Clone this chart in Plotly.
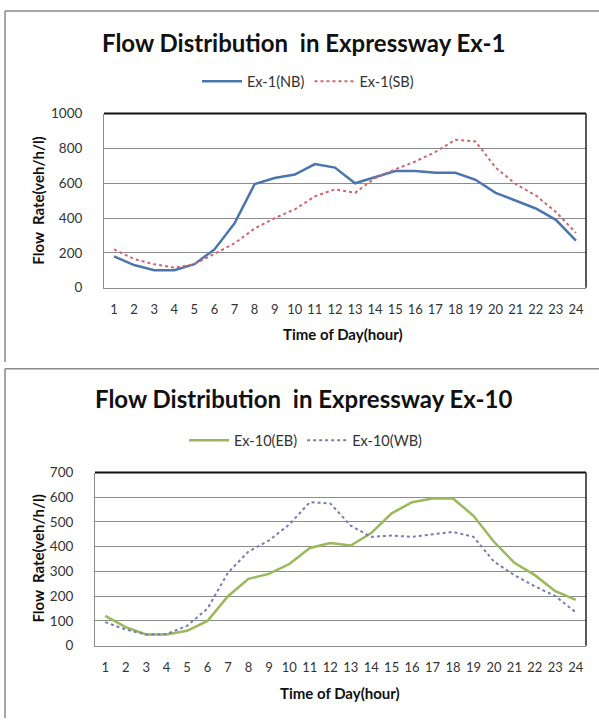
import plotly.graph_objects as go

# Hourly flow rates (veh/h/l)
hours = list(range(1, 25))
hour_labels = [str(h) for h in hours]

ex1_nb = [180, 130, 100, 100, 135, 220, 370, 595, 630, 650, 710, 690,
          600, 635, 670, 670, 660, 660, 620, 545, 500, 455, 390, 270]
ex1_sb = [220, 165, 135, 115, 135, 195, 255, 340, 400, 450, 525, 565,
          545, 630, 680, 725, 780, 850, 840, 690, 595, 530, 435, 315]

ex10_eb = [120, 75, 45, 45, 60, 100, 200, 270, 290, 330, 395, 415,
           405, 455, 535, 580, 595, 595, 525, 420, 335, 285, 220, 185]
ex10_wb = [95, 65, 45, 47, 80, 150, 295, 380, 425, 490, 580, 575,
           485, 440, 445, 440, 450, 460, 440, 340, 285, 240, 200, 135]

ex1_ticks = [0, 200, 400, 600, 800, 1000]
ex10_ticks = [0, 100, 200, 300, 400, 500, 600, 700]

W, H = 599, 726
FONT = "Lato"


def px(x):
    return x / W


def py(y):
    return 1 - y / H


fig = go.Figure()

fig.add_trace(go.Scatter(x=hours, y=ex1_nb, name="Ex-1(NB)", mode="lines",
                         line=dict(color="#4a76ad", width=2.5),
                         xaxis="x", yaxis="y", legend="legend"))
fig.add_trace(go.Scatter(x=hours, y=ex1_sb, name="Ex-1(SB)", mode="lines",
                         line=dict(color="#d0666c", width=2, dash="dot"),
                         xaxis="x", yaxis="y", legend="legend"))
fig.add_trace(go.Scatter(x=hours, y=ex10_eb, name="Ex-10(EB)", mode="lines",
                         line=dict(color="#9bb85a", width=2.5),
                         xaxis="x2", yaxis="y2", legend="legend2"))
fig.add_trace(go.Scatter(x=hours, y=ex10_wb, name="Ex-10(WB)", mode="lines",
                         line=dict(color="#7a7ab8", width=2, dash="dot"),
                         xaxis="x2", yaxis="y2", legend="legend2"))

xcommon = dict(range=[0.5, 24.5], tickmode="array", tickvals=hours,
               ticktext=hour_labels, showgrid=False, zeroline=False,
               showline=True, linecolor="#8c8c8c", linewidth=1,
               ticks="outside", ticklen=10, tickcolor="rgba(0,0,0,0)",
               tickfont=dict(family=FONT, size=13, color="#333333"))
ycommon = dict(showgrid=True, gridcolor="#8c8c8c", gridwidth=1,
               zeroline=False, showline=True, linecolor="#8c8c8c",
               linewidth=1, ticks="outside", ticklen=18,
               tickcolor="rgba(0,0,0,0)",
               tickfont=dict(family=FONT, size=13.5, color="#333333"))

legend_font = dict(family=FONT, size=14.5, color="#333333")

fig.update_layout(
    width=W, height=H, autosize=False,
    margin=dict(l=0, r=0, t=0, b=0),
    paper_bgcolor="white", plot_bgcolor="white",
    xaxis=dict(domain=[px(104), px(586)], anchor="y", **xcommon),
    yaxis=dict(domain=[py(286), py(108)], anchor="x", range=[0, 1000],
               tickvals=ex1_ticks, **ycommon),
    xaxis2=dict(domain=[px(95), px(586)], anchor="y2", **xcommon),
    yaxis2=dict(domain=[py(652), py(475)], anchor="x2", range=[0, 700],
                tickvals=ex10_ticks, **ycommon),
    legend=dict(orientation="h", x=px(308), y=py(75), xanchor="center",
                yanchor="middle", font=legend_font,
                bgcolor="rgba(0,0,0,0)", itemwidth=40),
    legend2=dict(orientation="h", x=px(306), y=py(442), xanchor="center",
                 yanchor="middle", font=legend_font,
                 bgcolor="rgba(0,0,0,0)", itemwidth=40),
)

# Panel frames and the dark top/right edges of each plot area
shapes = [
    dict(type="line", xref="paper", yref="paper", x0=px(5), x1=1, y0=py(3), y1=py(3),
         line=dict(color="#8a8a8a", width=1.5)),
    dict(type="line", xref="paper", yref="paper", x0=px(5), x1=px(5), y0=py(3), y1=py(362),
         line=dict(color="#8a8a8a", width=1.5)),
    dict(type="line", xref="paper", yref="paper", x0=px(5), x1=1, y0=py(369), y1=py(369),
         line=dict(color="#8a8a8a", width=1.5)),
    dict(type="line", xref="paper", yref="paper", x0=px(5), x1=px(5), y0=py(369), y1=0,
         line=dict(color="#8a8a8a", width=1.5)),
]
for xa, ya in (("x", "y"), ("x2", "y2")):
    shapes.append(dict(type="line", xref=f"{xa} domain", yref=f"{ya} domain",
                       x0=0, x1=1, y0=1, y1=1, line=dict(color="#111111", width=2)))
    shapes.append(dict(type="line", xref=f"{xa} domain", yref=f"{ya} domain",
                       x0=1, x1=1, y0=0, y1=1, line=dict(color="#222222", width=1.5)))
fig.update_layout(shapes=shapes)

annotations = [
    dict(text="<b>Flow Distribution  in Expressway Ex-1</b>", x=px(303), y=py(35)),
    dict(text="<b>Flow Distribution  in Expressway Ex-10</b>", x=px(303), y=py(399)),
]
for a in annotations:
    a.update(xref="paper", yref="paper", showarrow=False, xanchor="center",
             yanchor="middle", font=dict(family=FONT, size=24, color="#111111"))

for yc in (197, 563):
    annotations.append(dict(text="<b>Flow  Rate(veh/h/l)</b>", x=px(38), y=py(yc),
                            xref="paper", yref="paper", showarrow=False,
                            textangle=-90, xanchor="center", yanchor="middle",
                            font=dict(family=FONT, size=15, color="#111111")))
for xc, yc in ((343, 333), (340, 700)):
    annotations.append(dict(text="<b>Time of Day(hour)</b>", x=px(xc), y=py(yc),
                            xref="paper", yref="paper", showarrow=False,
                            xanchor="center", yanchor="middle",
                            font=dict(family=FONT, size=15, color="#111111")))
fig.update_layout(annotations=annotations)

fig.write_html("out.html")
